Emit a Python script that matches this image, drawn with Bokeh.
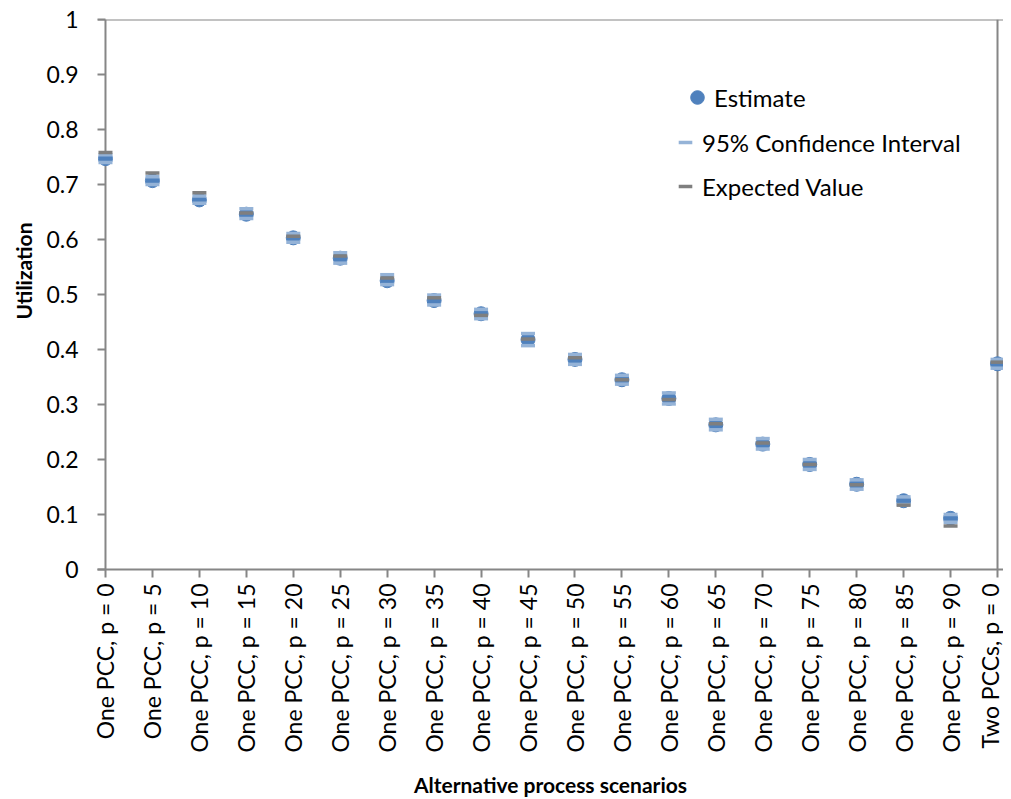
import numpy as np
from bokeh.plotting import figure
from bokeh.models import (Range1d, FixedTicker, CustomJSTickFormatter, Span, Legend,
                          LegendItem, ColumnDataSource, Title)
from bokeh.embed import file_html
from bokeh.resources import INLINE

categories = ["One PCC, p = 0", "One PCC, p = 5", "One PCC, p = 10", "One PCC, p = 15",
              "One PCC, p = 20", "One PCC, p = 25", "One PCC, p = 30", "One PCC, p = 35",
              "One PCC, p = 40", "One PCC, p = 45", "One PCC, p = 50", "One PCC, p = 55",
              "One PCC, p = 60", "One PCC, p = 65", "One PCC, p = 70", "One PCC, p = 75",
              "One PCC, p = 80", "One PCC, p = 85", "One PCC, p = 90", "Two PCCs, p = 0"]
estimate = [0.747, 0.707, 0.672, 0.646, 0.603, 0.566, 0.525, 0.489, 0.465, 0.418,
            0.382, 0.345, 0.311, 0.263, 0.228, 0.191, 0.155, 0.125, 0.093, 0.374]
ci_lower = [0.740, 0.700, 0.666, 0.638, 0.595, 0.557, 0.518, 0.481, 0.456, 0.407,
            0.373, 0.337, 0.301, 0.254, 0.219, 0.182, 0.146, 0.118, 0.086, 0.366]
ci_upper = [0.754, 0.714, 0.679, 0.656, 0.611, 0.576, 0.536, 0.499, 0.473, 0.429,
            0.391, 0.353, 0.321, 0.273, 0.238, 0.200, 0.163, 0.132, 0.100, 0.382]
expected = [0.758, 0.721, 0.685, 0.648, 0.606, 0.570, 0.530, 0.494, 0.462, 0.419,
            0.385, 0.345, 0.309, 0.265, 0.230, 0.191, 0.154, 0.117, 0.079, 0.377]
y_ticks = [0.0, 0.1, 0.2, 0.3, 0.4, 0.5, 0.6, 0.7, 0.8, 0.9, 1.0]

x = list(range(len(categories)))
n = len(categories)

FONT = "Lato"
AXIS = "#868686"
BLUE = "#4F81BD"
LIGHT = "#95B3D7"
GRAY = "#7F7F7F"

# frame extends slightly beyond first/last category so edge markers aren't clipped
px_per = 894 / (n - 1)
p = figure(width=1003, height=799, output_backend="svg", toolbar_location=None,
           x_range=Range1d(-8 / px_per, (n - 1) + 6 / px_per), y_range=Range1d(0, 1),
           min_border_left=95, min_border_right=0, min_border_top=19, min_border_bottom=229)
p.outline_line_color = None
p.xgrid.visible = False
p.ygrid.visible = False
p.background_fill_color = "white"

src = ColumnDataSource(dict(x=x, est=estimate, lo=ci_lower, hi=ci_upper, exp=expected))

r_est = p.scatter("x", "est", source=src, marker="circle", size=14,
                  fill_color=BLUE, line_color=BLUE, line_width=1)
r_lo = p.scatter("x", "lo", source=src, marker="dash", size=14, line_color=LIGHT, line_width=3.5)
r_hi = p.scatter("x", "hi", source=src, marker="dash", size=14, line_color=LIGHT, line_width=3.5)
r_exp = p.scatter("x", "exp", source=src, marker="dash", size=14, line_color=GRAY, line_width=3.5)

# x axis
xa = p.xaxis[0]
xa.ticker = FixedTicker(ticks=x)
xa.major_label_overrides = {i: c for i, c in zip(x, categories)}
xa.major_label_orientation = np.pi / 2
xa.major_tick_out = 8
xa.major_tick_in = 0
xa.minor_tick_line_color = None
xa.axis_line_color = AXIS
xa.axis_line_width = 2
xa.major_tick_line_color = AXIS
xa.major_tick_line_width = 2
xa.major_label_standoff = 6
xa.major_label_text_font = FONT
xa.major_label_text_font_size = "23px"
xa.major_label_text_color = "black"
xa.axis_label = "Alternative process scenarios"
xa.axis_label_text_font = FONT
xa.axis_label_text_font_style = "bold"
xa.axis_label_text_font_size = "21px"
xa.axis_label_text_color = "black"
xa.axis_label_standoff = 16

# y axis
ya = p.yaxis[0]
ya.ticker = FixedTicker(ticks=y_ticks)
ya.formatter = CustomJSTickFormatter(code="return (Math.round(tick*10)/10).toString()")
ya.major_tick_in = 8
ya.major_tick_out = 0
ya.minor_tick_line_color = None
ya.axis_line_color = None
ya.major_tick_line_color = AXIS
ya.major_tick_line_width = 2
ya.major_label_standoff = 19
ya.major_label_text_font = FONT
ya.major_label_text_font_size = "23px"
ya.major_label_text_color = "black"

# y-axis title, sitting slightly above the plot centre as in the original
p.add_layout(Title(text="Utilization", align="left", offset=250, standoff=16,
                   text_font=FONT, text_font_style="bold", text_font_size="21px",
                   text_color="black"), "left")

# plot-area border lines
p.add_layout(Span(location=0, dimension="height", line_color=AXIS, line_width=2, level="underlay"))
p.add_layout(Span(location=n - 1, dimension="height", line_color=AXIS, line_width=2, level="underlay"))
p.add_layout(Span(location=1, dimension="width", line_color=AXIS, line_width=2, level="underlay"))

common = dict(glyph_width=34, glyph_height=34, spacing=10, padding=0, margin=0,
              label_standoff=0, label_text_font=FONT, label_text_font_size="24px",
              label_text_color="black", background_fill_alpha=0, border_line_alpha=0)
leg1 = Legend(items=[LegendItem(label="Estimate", renderers=[r_est])],
              location=(583, 455), **common)
leg2 = Legend(items=[LegendItem(label="95% Confidence Interval", renderers=[r_lo]),
                     LegendItem(label="Expected Value", renderers=[r_exp])],
              location=(571, 366), **common)
p.add_layout(leg1)
p.add_layout(leg2)

open("out.html", "w").write(file_html(p, INLINE))
